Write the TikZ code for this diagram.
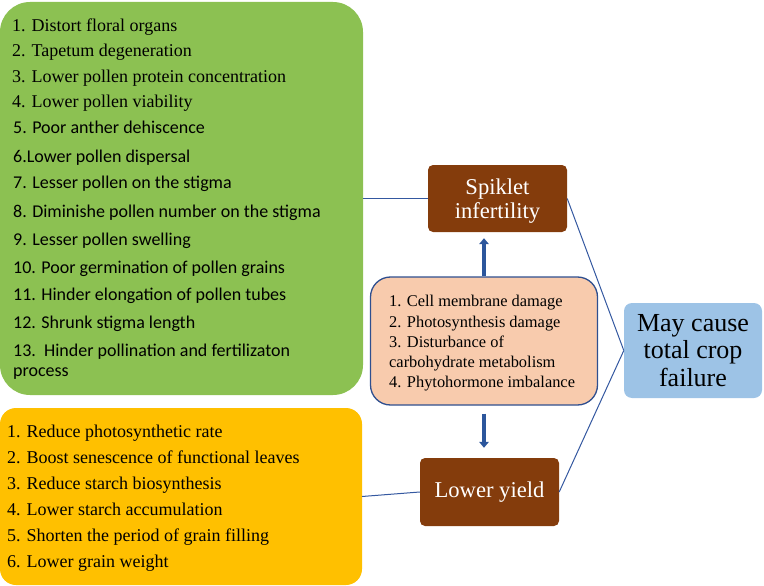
\documentclass[tikz,border=0pt]{standalone}
\usepackage{fontspec}
\setmainfont{Liberation Serif}
\newfontfamily\calfont{Carlito}
\usetikzlibrary{arrows.meta}
\definecolor{leafgreen}{RGB}{140,193,82}
\definecolor{goldbox}{RGB}{255,192,0}
\definecolor{brownbox}{RGB}{132,60,12}
\definecolor{peachbox}{RGB}{248,203,173}
\definecolor{skybox}{RGB}{157,195,230}
\definecolor{lineblue}{RGB}{52,88,160}
\definecolor{arrowblue}{RGB}{44,86,156}
\definecolor{midborder}{RGB}{47,79,143}
\begin{document}
\begin{tikzpicture}[x=1pt,y=-1pt,
  panel/.style={anchor=north west, inner sep=0pt, outer sep=0pt},
  brownnode/.style={fill=brownbox, rounded corners=5pt, inner sep=0pt, text=white, align=center,
    minimum width=139pt, font=\fontsize{22.6}{24}\selectfont},
  gitem/.style={anchor=base west, inner sep=0pt, font=\fontsize{18}{20}\selectfont},
  mitem/.style={anchor=base west, inner sep=0pt, font=\fontsize{16.4}{19}\selectfont},
  thinline/.style={draw=lineblue, line width=1pt},
  fatarrow/.style={draw=arrowblue, line width=4.2pt, -{Triangle[width=9.5pt,length=6pt]}}]
\useasboundingbox (0,0) rectangle (764,586);

% panels
\node[panel, fill=leafgreen, rounded corners=30pt, minimum width=363pt, minimum height=393pt] (green) at (0,2) {};
\node[panel, fill=goldbox, rounded corners=16pt, minimum width=362pt, minimum height=177pt] (yel) at (0,408) {};

% green list
\foreach \yy/\txt [count=\i] in {31.7/{1. Distort floral organs}, 57/{2. Tapetum degeneration},
    83/{3. Lower pollen protein concentration}, 108/{4. Lower pollen viability}}
  \node[gitem] (gs\i) at (12,\yy) {\txt};
\foreach \yy/\txt [count=\i] in {134/{5. Poor anther dehiscence}, 162/{6.Lower pollen dispersal},
    188/{7. Lesser pollen on the stigma}, 217/{8. Diminishe pollen number on the stigma},
    245/{9. Lesser pollen swelling}, 273/{10. Poor germination of pollen grains},
    300/{11. Hinder elongation of pollen tubes}, 328/{12. Shrunk stigma length},
    356/{13.\ \ Hinder pollination and fertilizaton}, 376/{process}}
  \node[gitem, font=\calfont\fontsize{18}{20}\selectfont] (gc\i) at (13,\yy) {\txt};

% yellow list
\foreach \yy/\txt [count=\i] in {437/{1. Reduce photosynthetic rate}, 463/{2. Boost senescence of functional leaves},
    489/{3. Reduce starch biosynthesis}, 515/{4. Lower starch accumulation},
    541/{5. Shorten the period of grain filling}, 567/{6. Lower grain weight}}
  \node[gitem] (y\i) at (7,\yy) {\txt};

% centre nodes
\node[brownnode, minimum height=67pt] (spk) at (497.5,198.5) {};
\node[anchor=base, inner sep=0pt, text=white, align=center, font=\fontsize{22.6}{24}\selectfont]
  (spktext) at (497.5,218) {Spiklet\\infertility};
\node[brownnode, minimum height=68pt] (ly) at (489.5,492) {Lower yield};
\node[draw=midborder, line width=1.3pt, fill=peachbox, rounded corners=20pt, inner sep=0pt,
  minimum width=227pt, minimum height=128pt] (mid) at (484,341) {};
\foreach \yy/\txt [count=\i] in {306/{1. Cell membrane damage}, 327/{2. Photosynthesis damage},
    347/{3. Disturbance of}, 367/{carbohydrate metabolism}, 387/{4. Phytohormone imbalance}}
  \node[mitem] (m\i) at (389,\yy) {\txt};
\node[fill=skybox, rounded corners=8pt, inner sep=0pt, minimum width=138pt, minimum height=95pt,
  align=center, font=\fontsize{26}{27.5}\selectfont] (may) at (693,350.5) {May cause\\total crop\\failure};

% connectors
\draw[thinline] (green.east) -- (spk.west);
\draw[thinline] (yel.east) -- (ly.west);
\draw[thinline] (spk.east) -- (may.west);
\draw[thinline] (ly.east) -- (may.west);
\draw[fatarrow, shorten >=6pt] (mid.north) -- (spk.south -| mid.north);
\draw[fatarrow, shorten <=8pt, shorten >=10pt] (mid.south) -- (ly.north -| mid.south);
\end{tikzpicture}
\end{document}
